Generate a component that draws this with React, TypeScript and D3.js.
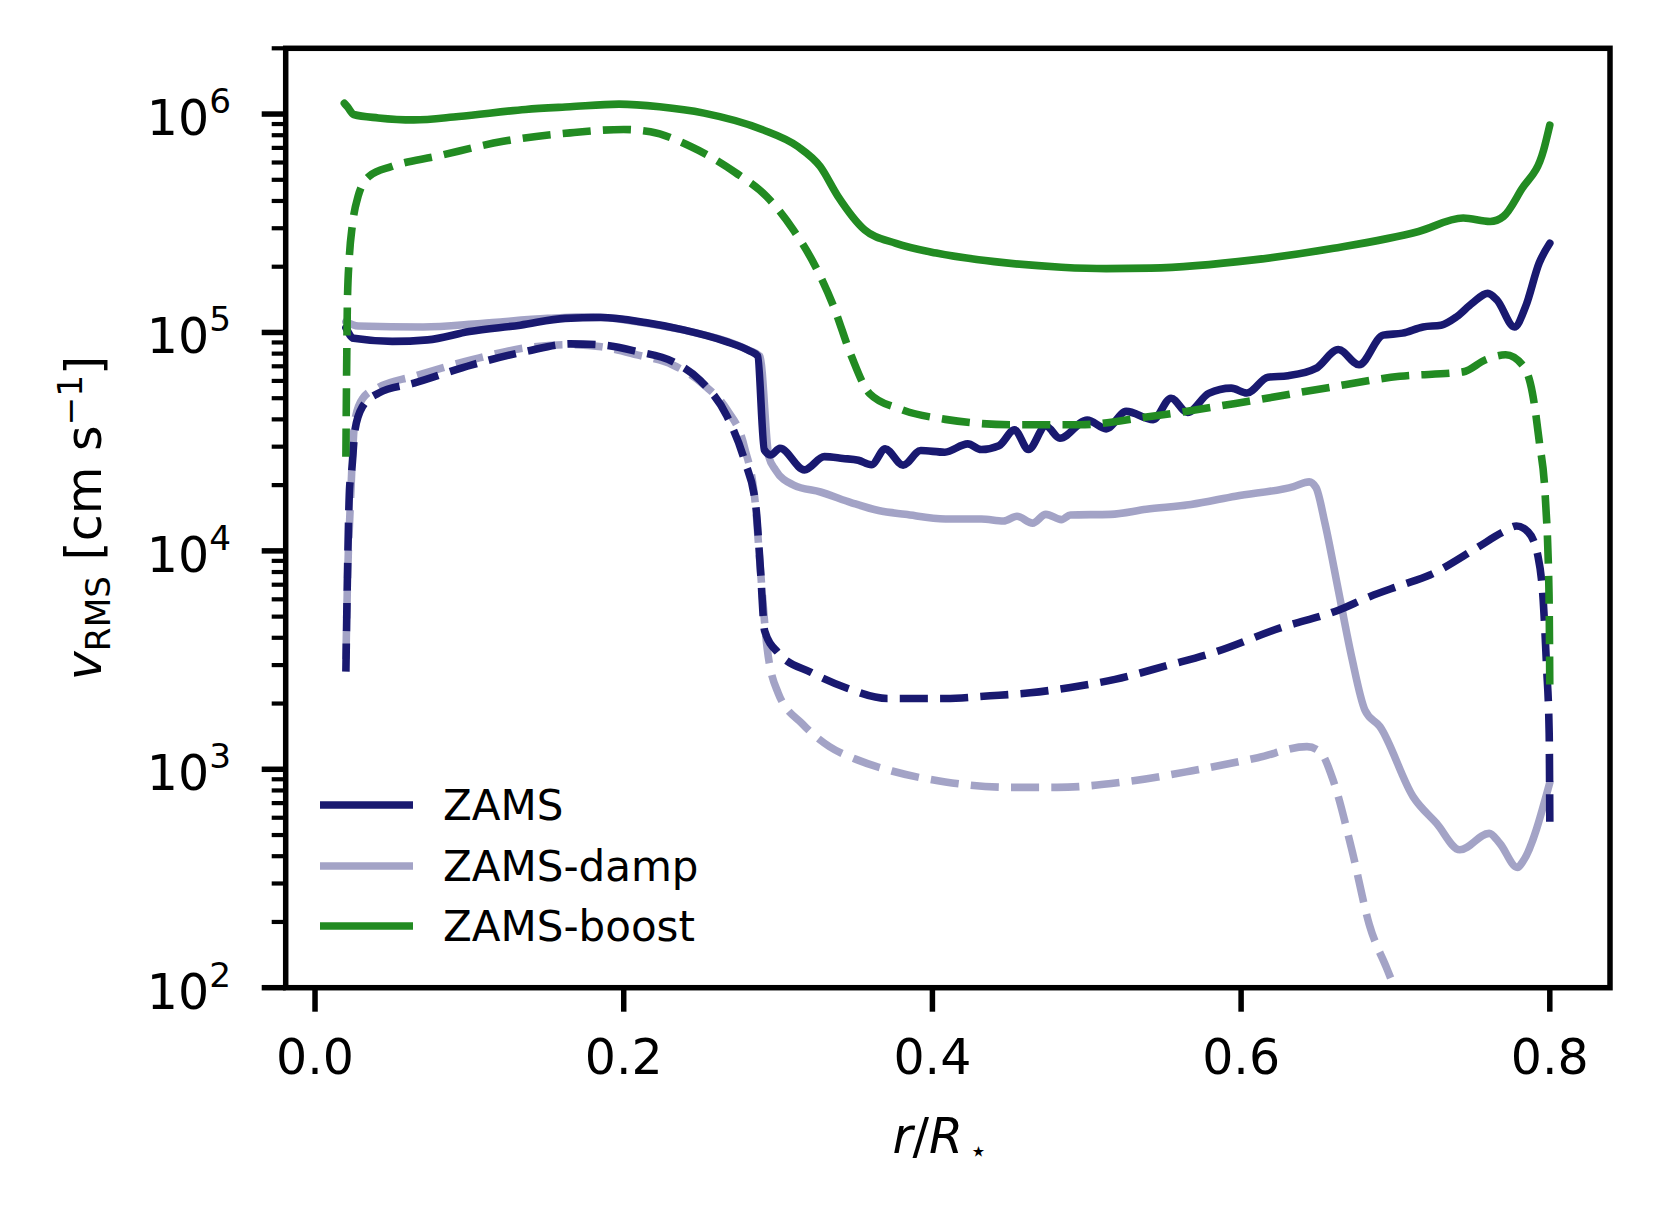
import React from "react";
import * as d3 from "d3";

// ---------- data ----------
const zamsX = [0.02, 0.025, 0.05, 0.073, 0.10, 0.133, 0.162, 0.185, 0.214, 0.238, 0.266, 0.282, 0.2868, 0.2911, 0.2954, 0.3012, 0.3171, 0.330, 0.342, 0.352, 0.3605, 0.3694, 0.381, 0.3925, 0.408, 0.4229, 0.4316, 0.4431, 0.4532, 0.4622, 0.4735, 0.4826, 0.5003, 0.5126, 0.5255, 0.543, 0.5546, 0.5653, 0.579, 0.5936, 0.6037, 0.6174, 0.6304, 0.6484, 0.663, 0.6764, 0.692, 0.7046, 0.7179, 0.7295, 0.7396, 0.7497, 0.7598, 0.7657, 0.7771, 0.7844, 0.7931, 0.80];
const zamsSolid = [1.05e5, 9.4e4, 9.1e4, 9.25e4, 1.01e5, 1.08e5, 1.16e5, 1.17e5, 1.11e5, 1.03e5, 9.1e4, 8.2e4, 7.8e4, 2.9e4, 2.75e4, 2.95e4, 2.35e4, 2.7e4, 2.65e4, 2.6e4, 2.48e4, 2.93e4, 2.47e4, 2.88e4, 2.83e4, 3.09e4, 2.91e4, 3.03e4, 3.58e4, 2.91e4, 3.73e4, 3.28e4, 3.97e4, 3.62e4, 4.35e4, 3.99e4, 5.0e4, 4.3e4, 5.26e4, 5.56e4, 5.28e4, 6.24e4, 6.34e4, 6.84e4, 8.36e4, 7.11e4, 9.72e4, 9.93e4, 1.06e5, 1.08e5, 1.18e5, 1.36e5, 1.51e5, 1.41e5, 1.06e5, 1.32e5, 2.08e5, 2.56e5];

const zamsDashX = [0.02, 0.0212, 0.0225, 0.0236, 0.0259, 0.0308, 0.041, 0.0641, 0.1017, 0.1364, 0.1653, 0.1855, 0.2086, 0.2318, 0.2494, 0.2668, 0.2783, 0.2855, 0.2885, 0.2913, 0.30, 0.3217, 0.3448, 0.3709, 0.4084, 0.4374, 0.4634, 0.4894, 0.5183, 0.5531, 0.582, 0.6254, 0.663, 0.6832, 0.7028, 0.7223, 0.7525, 0.7698, 0.7784, 0.786, 0.7924, 0.7957, 0.7979, 0.7996, 0.80];
const zamsDash = [2.8e3, 9.1e3, 2.0e4, 2.27e4, 3.58e4, 4.58e4, 5.27e4, 5.86e4, 7.11e4, 8.18e4, 8.87e4, 8.77e4, 8.18e4, 7.36e4, 6.04e4, 4.15e4, 2.59e4, 1.62e4, 8.4e3, 4.3e3, 3.42e3, 2.77e3, 2.35e3, 2.11e3, 2.11e3, 2.17e3, 2.24e3, 2.37e3, 2.58e3, 3.0e3, 3.42e3, 4.44e3, 5.35e3, 6.17e3, 6.93e3, 7.76e3, 1.03e4, 1.22e4, 1.30e4, 1.22e4, 9.4e3, 5.97e3, 2.95e3, 1.46e3, 575];

const dampX = [0.02, 0.028, 0.07, 0.1075, 0.1509, 0.1798, 0.2087, 0.2376, 0.2809, 0.2882, 0.294, 0.2983, 0.3101, 0.3275, 0.3477, 0.3651, 0.3824, 0.4084, 0.4316, 0.4461, 0.4548, 0.4649, 0.4735, 0.4836, 0.4894, 0.5154, 0.5386, 0.5675, 0.5964, 0.634, 0.6441, 0.6485, 0.6543, 0.663, 0.6716, 0.6803, 0.6899, 0.7114, 0.7266, 0.7417, 0.7607, 0.7676, 0.779, 0.7827, 0.80];
const dampSolid = [1.12e5, 1.07e5, 1.06e5, 1.10e5, 1.16e5, 1.18e5, 1.12e5, 1.03e5, 8.3e4, 7.8e4, 2.7e4, 2.35e4, 2.0e4, 1.86e4, 1.66e4, 1.53e4, 1.47e4, 1.40e4, 1.40e4, 1.37e4, 1.44e4, 1.34e4, 1.47e4, 1.39e4, 1.46e4, 1.47e4, 1.55e4, 1.63e4, 1.78e4, 1.97e4, 2.07e4, 1.95e4, 1.34e4, 6.6e3, 3.27e3, 1.86e3, 1.57e3, 750, 566, 428, 509, 458, 355, 380, 870];

const dampDashX = [0.02, 0.0216, 0.0222, 0.0259, 0.031, 0.041, 0.064, 0.1017, 0.1364, 0.1653, 0.1855, 0.2086, 0.2318, 0.252, 0.2665, 0.2781, 0.2855, 0.2885, 0.2929, 0.30, 0.3159, 0.3333, 0.3506, 0.3738, 0.4084, 0.4518, 0.4807, 0.5241, 0.5675, 0.6108, 0.6427, 0.6513, 0.66, 0.6716, 0.6831, 0.6947, 0.708];
const dampDash = [3.2e3, 1.0e4, 1.26e4, 3.98e4, 5.0e4, 5.6e4, 6.3e4, 7.5e4, 8.5e4, 8.8e4, 8.6e4, 7.9e4, 7.1e4, 5.75e4, 4.47e4, 3.0e4, 1.58e4, 8.3e3, 3.6e3, 2.24e3, 1.61e3, 1.27e3, 1.11e3, 982, 875, 826, 826, 875, 982, 1.13e3, 1.27e3, 1.2e3, 875, 432, 194, 121, 71];

const boostX = [0.019, 0.021, 0.025, 0.041, 0.064, 0.093, 0.1364, 0.1653, 0.197, 0.2232, 0.252, 0.2896, 0.3128, 0.3273, 0.3388, 0.3561, 0.3764, 0.4025, 0.4402, 0.4836, 0.5126, 0.5415, 0.608, 0.66, 0.715, 0.7439, 0.7613, 0.77, 0.7815, 0.796, 0.80];
const boostSolid = [1.12e6, 1.08e6, 9.95e5, 9.6e5, 9.4e5, 9.75e5, 1.05e6, 1.08e6, 1.11e6, 1.08e6, 1.01e6, 8.5e5, 7.1e5, 5.75e5, 4.2e5, 2.95e5, 2.56e5, 2.31e5, 2.11e5, 1.99e5, 1.96e5, 1.97e5, 2.15e5, 2.43e5, 2.9e5, 3.34e5, 3.22e5, 3.4e5, 4.5e5, 6.85e5, 8.9e5];

const boostDashX = [0.02, 0.0205, 0.021, 0.0222, 0.0242, 0.0279, 0.0352, 0.0496, 0.0786, 0.1219, 0.1653, 0.2, 0.2173, 0.2434, 0.2723, 0.2925, 0.3099, 0.3243, 0.3359, 0.3475, 0.3593, 0.3795, 0.4084, 0.4518, 0.4952, 0.5386, 0.5964, 0.6543, 0.7028, 0.7439, 0.7584, 0.7714, 0.783, 0.7887, 0.7931, 0.7972, 0.7995, 0.80];
const boostDash = [2.7e4, 7.0e4, 1.4e5, 2.2e5, 3.1e5, 4.2e5, 5.2e5, 5.75e5, 6.4e5, 7.5e5, 8.2e5, 8.5e5, 8.3e5, 7.1e5, 5.4e5, 4.2e5, 2.95e5, 2.0e5, 1.32e5, 7.8e4, 5.25e4, 4.45e4, 4.0e4, 3.78e4, 3.78e4, 4.1e4, 4.73e4, 5.56e4, 6.3e4, 6.6e4, 7.5e4, 7.9e4, 7.0e4, 5.3e4, 3.2e4, 1.7e4, 6.3e3, 2.3e3];

const xTicks = [0.0, 0.2, 0.4, 0.6, 0.8];
const yTickExps = [2, 3, 4, 5, 6];
const legendLabels = ["ZAMS", "ZAMS-damp", "ZAMS-boost"];

// ---------- styling ----------
const W = 1659, H = 1218;
const L = 285.7, R = 1610, T = 48.3, B = 987.7;
const NAVY = "#191970";
const DAMP = "rgba(25,25,112,0.4)";
const GREEN = "#228b22";
const LW = 7.6;
const DASH = "28.1,12.2";
const FONT = "'DejaVu Sans', sans-serif";
const TICK_FS = 49;
const LEG_FS = 42;

export default function App() {
  const x = d3.scaleLinear().domain([-0.019, 0.839]).range([L, R]);
  const y = d3.scaleLog().domain([100, 2e6]).range([B, T]);
  const mk = (xs: number[], ys: number[]) =>
    d3.line<number>().x((_, i) => x(xs[i])).y((v) => y(v)).curve(d3.curveMonotoneX)(ys) || "";

  const series = [
    { d: mk(dampX, dampSolid), c: DAMP, dash: undefined },
    { d: mk(dampDashX, dampDash), c: DAMP, dash: DASH },
    { d: mk(zamsX, zamsSolid), c: NAVY, dash: undefined },
    { d: mk(zamsDashX, zamsDash), c: NAVY, dash: DASH },
    { d: mk(boostX, boostSolid), c: GREEN, dash: undefined },
    { d: mk(boostDashX, boostDash), c: GREEN, dash: DASH },
  ];

  const minor: number[] = [];
  for (let e = 2; e <= 6; e++) for (let m = 2; m <= 9; m++) {
    const v = m * Math.pow(10, e);
    if (v <= 2e6 + 1) minor.push(v);
  }

  const legColors = [NAVY, DAMP, GREEN];
  const legY = [805, 866, 926];

  return (
    <svg width={W} height={H} style={{ position: "absolute", left: 0, top: 0, background: "#fff" }} fontFamily={FONT}>
      <rect x={0} y={0} width={W} height={H} fill="#fff" />
      <defs>
        <clipPath id="plotclip">
          <rect x={L} y={T} width={R - L} height={B - T} />
        </clipPath>
      </defs>
      <g clipPath="url(#plotclip)" fill="none" strokeLinejoin="round">
        {series.map((s, i) => (
          <path key={i} d={s.d} stroke={s.c} strokeWidth={LW} strokeDasharray={s.dash} strokeLinecap={s.dash ? "butt" : "round"} />
        ))}
      </g>

      {/* legend */}
      {legendLabels.map((lab, i) => (
        <g key={lab}>
          <line x1={320} x2={413} y1={legY[i]} y2={legY[i]} stroke={legColors[i]} strokeWidth={LW} />
          <text x={443} y={legY[i] + 15} fontSize={LEG_FS} fill="#000">{lab}</text>
        </g>
      ))}

      {/* spines */}
      <rect x={L} y={T} width={R - L} height={B - T} fill="none" stroke="#000" strokeWidth={5.5} />

      {/* x ticks */}
      {xTicks.map((t) => (
        <g key={t}>
          <line x1={x(t)} x2={x(t)} y1={B} y2={B + 24} stroke="#000" strokeWidth={5.5} />
          <text x={x(t)} y={1074} fontSize={TICK_FS} textAnchor="middle" fill="#000">{t.toFixed(1)}</text>
        </g>
      ))}

      {/* y ticks */}
      {minor.map((v) => (
        <line key={v} x1={L - 14} x2={L} y1={y(v)} y2={y(v)} stroke="#000" strokeWidth={4.2} />
      ))}
      {yTickExps.map((e) => {
        const yy = y(Math.pow(10, e));
        return (
          <g key={e}>
            <line x1={L - 24} x2={L} y1={yy} y2={yy} stroke="#000" strokeWidth={5.5} />
            <text x={231} y={yy + 21} fontSize={TICK_FS} textAnchor="end" fill="#000">
              10<tspan dy={-22} fontSize={TICK_FS * 0.7}>{e}</tspan>
            </text>
          </g>
        );
      })}

      {/* axis labels */}
      <text x={940} y={1153} fontSize={TICK_FS} textAnchor="middle" fill="#000">
        <tspan fontStyle="italic">r</tspan>/<tspan fontStyle="italic">R</tspan>
        <tspan dx={6} dy={8} fontSize={TICK_FS * 0.6}>⋆</tspan>
      </text>
      <text transform={`translate(101,${(T + B) / 2}) rotate(-90)`} fontSize={TICK_FS} textAnchor="middle" fill="#000">
        <tspan fontStyle="italic">v</tspan>
        <tspan dy={9} fontSize={TICK_FS * 0.7}>RMS</tspan>
        <tspan dy={-9}> [cm s</tspan>
        <tspan dy={-19} fontSize={TICK_FS * 0.7}>−1</tspan>
        <tspan dy={19}>]</tspan>
      </text>
    </svg>
  );
}
